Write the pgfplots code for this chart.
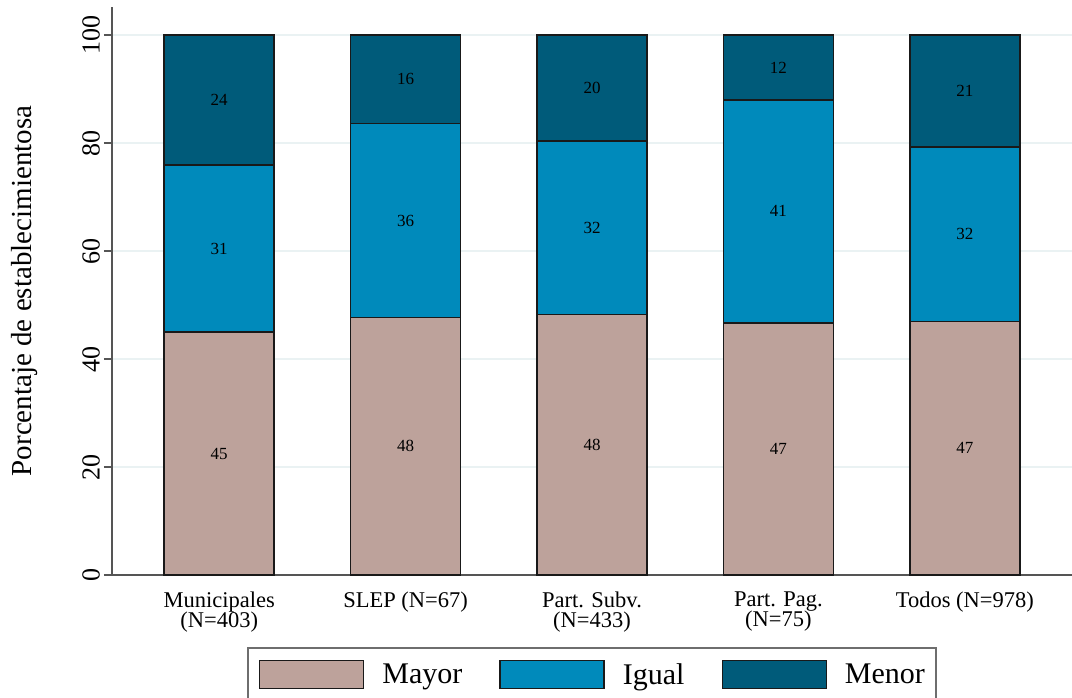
\documentclass[border=0pt]{standalone}
\usepackage{fontspec}
\setmainfont{Liberation Serif}
\usepackage{pgfplots}
\usepackage{pgfplotstable}
\pgfplotsset{compat=1.18}

\definecolor{cMayor}{RGB}{189,162,155}
\definecolor{cIgual}{RGB}{0,138,187}
\definecolor{cMenor}{RGB}{0,91,122}
\definecolor{cEdge}{RGB}{25,25,25}
\definecolor{cAxis}{RGB}{85,85,85}
\definecolor{cGrid}{RGB}{234,242,243}
\definecolor{cLeg}{RGB}{110,110,110}

% porcentaje por tipo de establecimiento
\pgfplotstableread{
x Mayor Igual Menor
0 45.0 30.9 24.1
1 47.7 35.9 16.4
2 48.2 32.2 19.6
3 46.7 41.3 12.0
4 46.9 32.4 20.7
}\datos

\pgfplotsset{
  lgimg/.style={legend image code/.code={%
    \draw[##1] (0pt,-14pt) rectangle (104pt,14pt);}},
}

\begin{document}
\begin{tikzpicture}
\path[use as bounding box] (-112pt,-122pt) rectangle (960pt,575pt);
\begin{axis}[
    at={(0,0)}, anchor=south west,
    scale only axis,
    width=960pt, height=568pt,
    ybar stacked,
    bar width=110pt,
    xmin=-0.575, xmax=4.575,
    ymin=0, ymax=105.2,
    axis x line*=bottom, axis y line*=left,
    axis line style={cAxis, line width=1.5pt},
    xtick=data,
    xticklabels={Municipales\\(N=403), SLEP (N=67), Part. Subv.\\(N=433), Part. Pag.\\(N=75), Todos (N=978)},
    xtick style={draw=none},
    xticklabel style={align=center, anchor=north, yshift=-5pt, font=\fontsize{22.5}{20.5}\selectfont},
    ytick={0,20,40,60,80,100},
    tick align=outside,
    major tick length=8pt,
    ytick style={cAxis, line width=1.5pt},
    yticklabel style={rotate=90, anchor=south, inner sep=4pt, font=\fontsize{26}{26}\selectfont},
    /pgf/number format/assume math mode=true,
    ymajorgrids=true,
    grid style={cGrid, line width=1.5pt},
    ylabel={Porcentaje de establecimientosa},
    ylabel style={at={([xshift=-87pt]axis description cs:0,0.5)}, anchor=center, font=\fontsize{29}{30}\selectfont},
    nodes near coords={\pgfmathprintnumber[fixed,precision=0]{\pgfplotspointmeta}},
    every node near coord/.append style={anchor=center, text=black, font=\fontsize{17}{17}\selectfont},
    every axis plot post/.append style={lgimg},
    legend columns=3,
    legend style={at={(0.5,-0.1268)}, anchor=north, draw=cLeg, line width=1.5pt,
        inner xsep=11pt, inner ysep=12pt, font=\fontsize{30}{30}\selectfont,
        nodes={inner sep=0pt},
        /tikz/every odd column/.append style={column sep=18pt},
        /tikz/every even column/.append style={column sep=37pt}},
]
\addplot[fill=cMayor, draw=cEdge, line width=1.4pt] table[x=x, y=Mayor] {\datos};
\addlegendentry{Mayor}
\addplot[fill=cIgual, draw=cEdge, line width=1.4pt] table[x=x, y=Igual] {\datos};
\addlegendentry{Igual}
\addplot[fill=cMenor, draw=cEdge, line width=1.4pt] table[x=x, y=Menor] {\datos};
\addlegendentry{Menor}
\end{axis}
\end{tikzpicture}
\end{document}
